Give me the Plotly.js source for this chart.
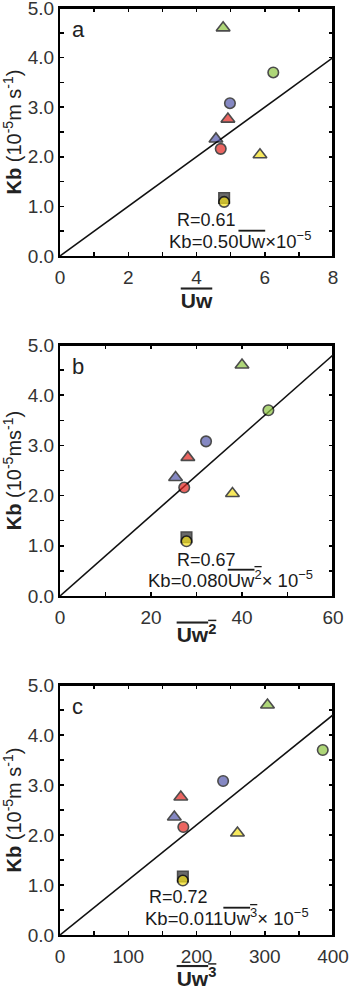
<!DOCTYPE html>
<html>
<head>
<meta charset="utf-8">
<script src="https://cdn.plot.ly/plotly-3.0.1.min.js"></script>
<style>html,body{margin:0;padding:0;background:#fff;}#chart{width:350px;height:990px;}</style>
</head>
<body>
<div id="chart"></div>
<script>
// Stations (order of drawing)
const stations = ['green-tri','green-circ','blue-circ','red-tri','blue-tri','red-circ','yellow-tri','black-sq','yellow-circ'];
const kb    = [4.60, 3.70, 3.08, 2.76, 2.36, 2.16, 2.04, 1.17, 1.09];
const uw1   = [4.78, 6.25, 4.98, 4.92, 4.57, 4.71, 5.86, 4.81, 4.81];
const uw2   = [40.0, 45.8, 32.1, 28.1, 25.4, 27.3, 37.9, 27.8, 27.8];
const uw3   = [304, 385, 239, 177, 167.5, 180.7, 260, 180, 180];
const slopes = [0.50, 0.080, 0.011];
const rValues = ['0.61', '0.67', '0.72'];
const xMax = [8, 60, 400];
const yMax = 5;
const panelLetters = ['a', 'b', 'c'];

// styles
const symbols = ['triangle-up','circle','circle','triangle-up','triangle-up','circle','triangle-up','square','circle'];
const colors  = ['#8cc63f','#8cc63f','#5257aa','#e3241f','#5257aa','#e3241f','#f5e11a','#2a2a2a','#f5e11a'];
const sizes   = symbols.map(s => s === 'triangle-up' ? 12 : 10.5);

const xs = [uw1, uw2, uw3];
const ol = t => '<span style="text-decoration:overline">' + t + '</span>';
const xTitles = ['<b>' + ol('Uw') + '</b>', '<b>' + ol('Uw<sup>2</sup>') + '</b>', '<b>' + ol('Uw<sup>3</sup>') + '</b>'];
const yTitles = ['<b>Kb</b> (10<sup>-5</sup>m s<sup>-1</sup>)', '<b>Kb</b> (10<sup>-5</sup>ms<sup>-1</sup>)', '<b>Kb</b> (10<sup>-5</sup>m s<sup>-1</sup>)'];
const kbEq = [
  'Kb=0.50' + ol('Uw') + '×10<sup>−5</sup>',
  'Kb=0.080' + ol('Uw<sup>2</sup>') + '× 10<sup>−5</sup>',
  'Kb=0.011' + ol('Uw<sup>3</sup>') + '× 10<sup>−5</sup>'
];
const rPos = [[3.37, 0.73], [25.3, 0.72], [127, 0.75]];
const eqPos = [[3.15, 0.33], [19.0, 0.34], [122, 0.36]];
const xdt = [2, 20, 100];
const xminor = [1, 10, 50];
const yminor = 0.5;
const ydomains = [[0.7325, 1], [0.3657, 0.6365], [0, 0.2697]];
const standoffs = [7, 1, 4];

const font = 'Liberation Sans, Arial, Helvetica, sans-serif';
const traces = [];
const layout = {
  width: 350, height: 990,
  margin: {l: 60, r: 17, t: 8, b: 55},
  paper_bgcolor: '#fff', plot_bgcolor: '#fff',
  showlegend: false,
  font: {family: font, color: '#222'},
  annotations: []
};

const tickStyle = {ticks: 'inside', ticklen: 4, tickwidth: 1.5, tickcolor: '#000'};

for (let p = 0; p < 3; p++) {
  const sfx = p === 0 ? '' : String(p + 1);
  const xa = 'x' + sfx, ya = 'y' + sfx;
  // frame top/right edges (from axis ranges)
  traces.push({
    x: [0, xMax[p], xMax[p]], y: [yMax, yMax, 0],
    xaxis: xa, yaxis: ya, mode: 'lines', type: 'scatter',
    line: {color: '#000', width: 2}, cliponaxis: false, hoverinfo: 'skip'
  });
  traces.push({
    x: [0, xMax[p]], y: [0, slopes[p] * xMax[p]],
    xaxis: xa, yaxis: ya, mode: 'lines', type: 'scatter',
    line: {color: '#111', width: 1.6}, hoverinfo: 'skip'
  });
  traces.push({
    x: xs[p], y: kb, text: stations,
    xaxis: xa, yaxis: ya, mode: 'markers', type: 'scatter',
    marker: {symbol: symbols, color: colors, size: sizes, line: {color: '#000', width: 1.6}}
  });
  const common = Object.assign({
    showline: true, linecolor: '#000', linewidth: 2, mirror: 'ticks',
    showgrid: false, zeroline: false, fixedrange: true,
    ticklabeloverflow: 'allow',
    tickfont: {family: font, size: 19, color: '#333'}
  }, tickStyle);
  layout['xaxis' + sfx] = Object.assign({}, common, {
    range: [0, xMax[p]], dtick: xdt[p], tick0: 0, anchor: ya,
    ticklabelstandoff: 3,
    minor: Object.assign({dtick: xminor[p]}, tickStyle),
    title: {text: xTitles[p], font: {family: font, size: 21, color: '#222'}, standoff: standoffs[p]}
  });
  layout['yaxis' + sfx] = Object.assign({}, common, {
    range: [0, yMax], dtick: 1, tick0: 0, tickformat: '.1f', anchor: xa, domain: ydomains[p],
    minor: Object.assign({dtick: yminor}, tickStyle),
    title: {text: yTitles[p], font: {family: font, size: 20, color: '#222'}, standoff: 1}
  });
  layout.annotations.push({
    xref: xa + ' domain', yref: ya + ' domain', x: 0.035, y: 0.915,
    text: panelLetters[p], showarrow: false, xanchor: 'left', yanchor: 'middle',
    font: {family: font, size: 22, color: '#222'}
  });
  layout.annotations.push({
    xref: xa, yref: ya, x: rPos[p][0], y: rPos[p][1],
    text: 'R=' + rValues[p], showarrow: false, xanchor: 'left', yanchor: 'middle',
    font: {family: font, size: 18, color: '#1a1a1a'}
  });
  layout.annotations.push({
    xref: xa, yref: ya, x: eqPos[p][0], y: eqPos[p][1],
    text: kbEq[p], showarrow: false, xanchor: 'left', yanchor: 'middle',
    font: {family: font, size: 18.5, color: '#1a1a1a'}
  });
}

Plotly.newPlot('chart', traces, layout, {displayModeBar: false, staticPlot: true});
</script>
</body>
</html>
